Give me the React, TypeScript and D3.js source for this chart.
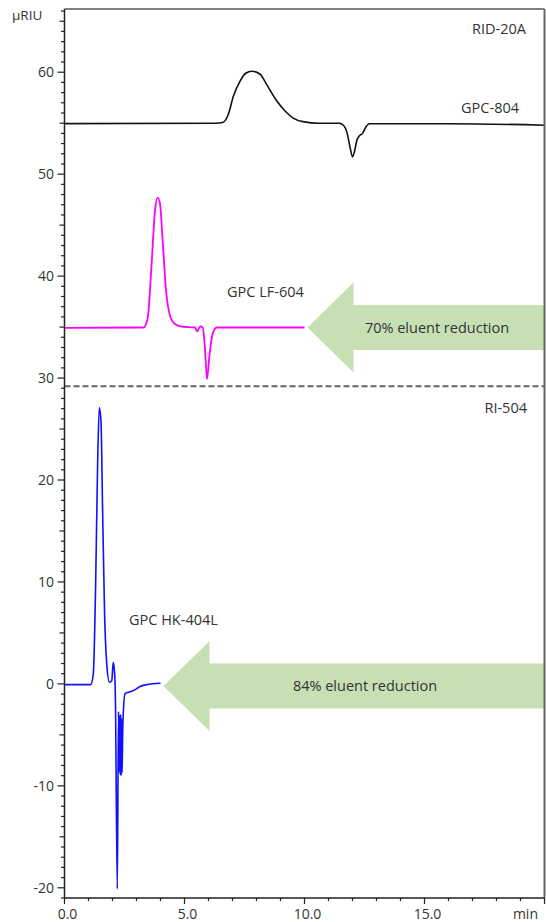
import React from "react";
import * as d3 from "d3";

// chromatogram traces, [time (min), signal (µRIU)]
const gpc804: [number, number][] = [
  [0, 54.96], [6.3, 55.0], [6.62, 55.1], [6.83, 55.9], [7.03, 57.6], [7.31, 59.1],
  [7.55, 59.9], [7.8, 60.1], [8.15, 59.8], [8.42, 58.8], [8.84, 57.2], [9.19, 56.2],
  [9.53, 55.5], [9.94, 55.15], [10.6, 55.0], [11.45, 55.0], [11.62, 54.8], [11.78, 54.0],
  [11.9, 52.6], [12.0, 51.7], [12.08, 52.2], [12.18, 53.3], [12.3, 53.8], [12.42, 54.0],
  [12.55, 54.6], [12.7, 54.95], [16.0, 54.95], [20.0, 54.8],
];

const gpcLF604: [number, number][] = [
  [0, 34.93], [3.3, 34.96], [3.4, 35.3], [3.49, 36.3], [3.63, 41.2], [3.77, 46.4],
  [3.88, 47.7], [3.98, 47.1], [4.09, 43.5], [4.23, 38.6], [4.4, 36.1], [4.6, 35.3],
  [4.88, 35.05], [5.44, 34.96], [5.53, 34.57], [5.65, 35.06], [5.76, 34.96], [5.85, 33.0],
  [5.94, 29.9], [6.03, 32.0], [6.17, 34.3], [6.34, 34.96], [10.0, 34.96],
];

const gpcHK404L: [number, number][] = [
  [0, -0.07], [1.09, -0.07], [1.2, 0.98], [1.3, 10.1], [1.38, 21.6], [1.45, 27.1],
  [1.52, 25.8], [1.59, 16.7], [1.67, 6.86], [1.76, 1.96], [1.87, 0.16], [1.97, 0.3],
  [2.03, 2.12], [2.09, 0.98], [2.12, -1.3], [2.2, -20.1], [2.25, -2.7], [2.28, -8.6],
  [2.3, -3.1], [2.32, -8.9], [2.34, -3.0], [2.36, -9.0], [2.38, -3.4], [2.4, -8.7],
  [2.43, -4.1], [2.52, -0.98], [2.66, -0.82], [2.87, -0.65],
  [3.15, -0.26], [3.42, -0.07], [4.0, 0.06],
];

const yTickLabels = [-20, -10, 0, 10, 20, 30, 40, 50, 60];
const xTickLabels = [0, 5, 10, 15];
const separatorValue = 29.2;

const arrows = [
  { label: "70% eluent reduction", from: [10.0, 34.96] as [number, number] },
  { label: "84% eluent reduction", from: [4.0, -0.2] as [number, number] },
];

const W = 546;
const H = 922;
const left = 64.5;
const right = 544.5;
const top = 9;
const bottom = 898;

const font = "'Open Sans', 'Noto Sans', sans-serif";
const textColor = "#333";

export default function App() {
  const x = d3.scaleLinear().domain([0, 20]).range([left, right]);
  const y = d3.scaleLinear().domain([-21, 66.2]).range([bottom, top]);
  const line = d3
    .line<[number, number]>()
    .x((d) => x(d[0]))
    .y((d) => y(d[1]))
    .curve(d3.curveMonotoneX);

  const yMinor = d3.range(-21, 67, 1);
  const xMinor = d3.range(0, 21, 1);

  const arrowPath = (tx: number, ty: number) => {
    const headLen = 46;
    const headHalf = 45;
    const shaftHalf = 22.5;
    const end = right;
    return [
      [tx, ty],
      [tx + headLen, ty - headHalf],
      [tx + headLen, ty - shaftHalf],
      [end, ty - shaftHalf],
      [end, ty + shaftHalf],
      [tx + headLen, ty + shaftHalf],
      [tx + headLen, ty + headHalf],
    ]
      .map((p) => p.join(","))
      .join(" ");
  };

  return (
    <svg
      width={W}
      height={H}
      style={{ position: "absolute", left: 0, top: 0, background: "#fff" }}
      fontFamily={font}
    >
      {/* arrows */}
      {arrows.map((a) => {
        const tx = x(a.from[0]) + 3;
        const ty = y(a.from[1]);
        return (
          <g key={a.label}>
            <polygon points={arrowPath(tx, ty)} fill="#c6e0b4" />
            <text
              x={(tx + right) / 2 + 11}
              y={ty}
              dy="0.35em"
              textAnchor="middle"
              fontSize={14.5}
              fill={textColor}
            >
              {a.label}
            </text>
          </g>
        );
      })}

      {/* separator */}
      <line
        x1={left}
        x2={right}
        y1={y(separatorValue)}
        y2={y(separatorValue)}
        stroke="#666"
        strokeWidth={2}
        strokeDasharray="6,3"
      />

      {/* traces */}
      <path d={line(gpc804) ?? ""} fill="none" stroke="#111" strokeWidth={1.6} />
      <path d={line(gpcLF604) ?? ""} fill="none" stroke="#ff00ff" strokeWidth={1.8} />
      <path d={line(gpcHK404L) ?? ""} fill="none" stroke="#1010ff" strokeWidth={1.6} />

      {/* frame */}
      <line x1={left} x2={right} y1={top} y2={top} stroke="#555" strokeWidth={1.5} />
      <line x1={right} x2={right} y1={top} y2={bottom} stroke="#666" strokeWidth={2} />
      <line x1={left} x2={left} y1={top} y2={bottom} stroke="#222" strokeWidth={1.5} />
      <line x1={left} x2={right} y1={bottom} y2={bottom} stroke="#222" strokeWidth={1.5} />

      {/* y ticks */}
      {yMinor.map((v) => {
        const len = v % 10 === 0 ? 7 : v % 5 === 0 ? 5 : 3.5;
        return (
          <line key={"yt" + v} x1={left - len} x2={left} y1={y(v)} y2={y(v)} stroke="#222" strokeWidth={1.2} />
        );
      })}
      {yTickLabels.map((v) => (
        <text key={"yl" + v} x={54} y={y(v)} dy="0.35em" textAnchor="end" fontSize={14} fill={textColor}>
          {v}
        </text>
      ))}
      <text x={12} y={20} fontSize={13.5} fill={textColor}>
        µRIU
      </text>

      {/* x ticks */}
      {xMinor.map((v) => {
        const len = v % 5 === 0 ? 6 : 3;
        return (
          <line key={"xt" + v} x1={x(v)} x2={x(v)} y1={bottom} y2={bottom + len} stroke="#222" strokeWidth={1.2} />
        );
      })}
      {xTickLabels.map((v) => (
        <text key={"xl" + v} x={x(v) + 3} y={919} textAnchor="middle" fontSize={14} fill={textColor}>
          {d3.format(".1f")(v)}
        </text>
      ))}
      <text x={538} y={919} textAnchor="end" fontSize={14} fill={textColor}>
        min
      </text>

      {/* labels */}
      <text x={526} y={34} textAnchor="end" fontSize={14.5} fill={textColor}>
        RID-20A
      </text>
      <text x={519} y={113} textAnchor="end" fontSize={14.5} fill={textColor}>
        GPC-804
      </text>
      <text x={227} y={297} fontSize={14.5} fill={textColor}>
        GPC LF-604
      </text>
      <text x={527} y={413} textAnchor="end" fontSize={14.5} fill={textColor}>
        RI-504
      </text>
      <text x={129} y={625} fontSize={14.5} fill={textColor}>
        GPC HK-404L
      </text>
    </svg>
  );
}
